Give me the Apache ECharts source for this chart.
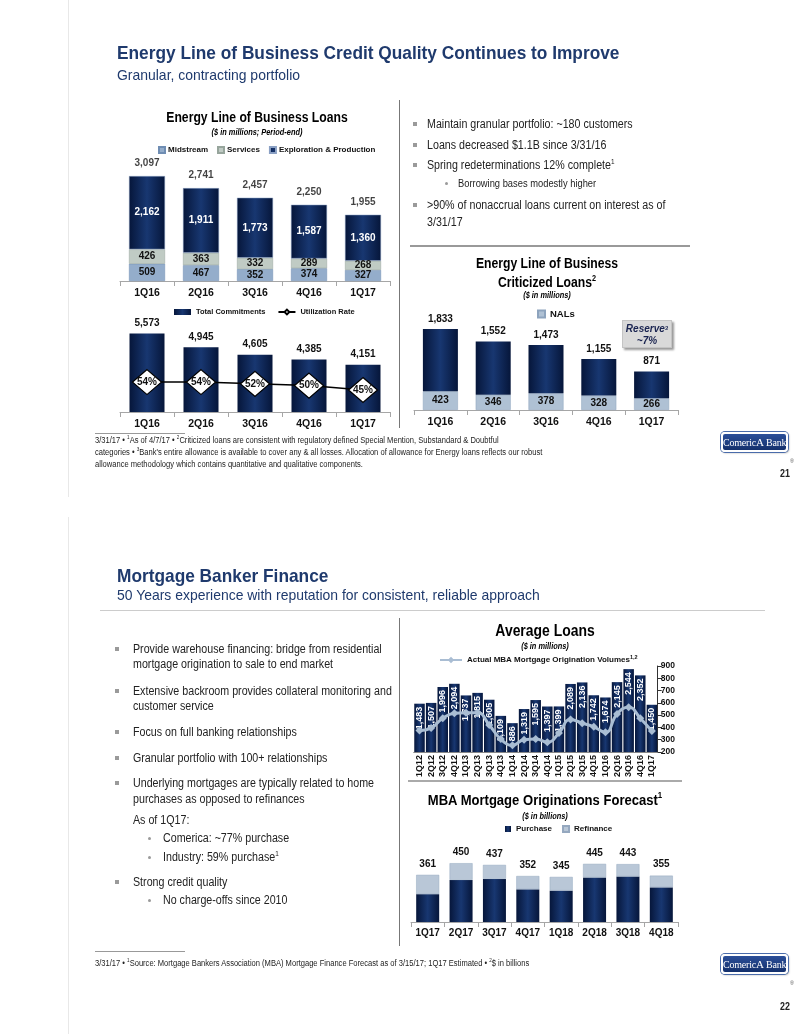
<!DOCTYPE html>
<html><head><meta charset="utf-8">
<script src="https://cdn.jsdelivr.net/npm/echarts@6/dist/echarts.min.js"></script>
<style>
body{margin:0;background:#fff;}
#wrap{position:relative;width:799px;height:1034px;overflow:hidden;font-family:'Liberation Sans Narrow','Arial Narrow','Liberation Sans',Arial,sans-serif;color:#1a1a1a;}
#chart{position:absolute;left:0;top:0;width:799px;height:1034px;}
.t{position:absolute;white-space:nowrap;line-height:1;z-index:5;transform-origin:left center;transform:scaleX(0.89);}
.c{transform-origin:center center;transform:translateX(-50%) scaleX(0.87);text-align:center;}
.navy{color:#1F3A6D;}
.h1{font-size:19px;font-weight:bold;transform:scaleX(0.91);}
.h2{font-size:15px;transform:scaleX(0.93);}
.ct{font-size:14px;font-weight:bold;color:#000;}
.cs{font-size:8.5px;font-weight:bold;font-style:italic;color:#000;}
.b{font-size:12px;color:#222;}
.sb{font-size:10.5px;color:#222;}
.sq{position:absolute;width:4px;height:4px;background:#9a9a9a;z-index:5;}
.dot{position:absolute;width:3px;height:3px;border-radius:50%;background:#9a9a9a;z-index:5;}
.fn{font-size:8.5px;color:#222;}
sup{font-size:60%;vertical-align:top;position:relative;top:-1px;}
.ln{position:absolute;z-index:4;}
.logo{position:absolute;width:63px;height:16px;border-radius:4px;background:linear-gradient(#2b4f99,#14306c);border:2px solid #fff;box-shadow:0 0 0 1px #4a6cab,1px 1px 2px rgba(0,0,0,.35);color:#fff;font-family:'Liberation Serif','DejaVu Serif',serif;font-size:10px;letter-spacing:-0.2px;line-height:16px;text-align:center;z-index:5;white-space:nowrap;overflow:hidden;}
.pg{font-size:10px;font-weight:bold;color:#222;}
.res{position:absolute;left:622px;top:320px;width:50px;height:28px;background:#d9d9d9;border:1px solid #c4c4c4;box-shadow:2px 2px 2px #9a9a9a;text-align:center;font-size:10px;font-weight:bold;font-style:italic;color:#1a2450;line-height:12px;padding-top:2px;box-sizing:border-box;z-index:5;}
</style></head>
<body>
<div id="wrap">
<div id="chart"></div>

<!-- slide borders -->
<div class="ln" style="left:68px;top:0;width:1px;height:497px;background:#e8e8e8"></div>
<div class="ln" style="left:68px;top:517px;width:1px;height:517px;background:#e8e8e8"></div>

<!-- ===== Slide 1 ===== -->
<div class="t navy h1" style="left:117px;top:43px">Energy Line of Business Credit Quality Continues to Improve</div>
<div class="t navy h2" style="left:117px;top:67px">Granular, contracting portfolio</div>

<div class="t c ct" style="left:257px;top:110px">Energy Line of Business Loans</div>
<div class="t c cs" style="left:257px;top:128px">($ in millions; Period-end)</div>

<div class="ln" style="left:399px;top:100px;width:1px;height:328px;background:#777"></div>
<div class="ln" style="left:410px;top:245px;width:280px;height:2px;background:#999"></div>

<div class="sq" style="left:413px;top:122px"></div>
<div class="t b" style="left:427px;top:118px">Maintain granular portfolio: ~180 customers</div>
<div class="sq" style="left:413px;top:143px"></div>
<div class="t b" style="left:427px;top:139px">Loans decreased $1.1B since 3/31/16</div>
<div class="sq" style="left:413px;top:163px"></div>
<div class="t b" style="left:427px;top:159px">Spring redeterminations 12% complete<sup>1</sup></div>
<div class="dot" style="left:445px;top:182px"></div>
<div class="t sb" style="left:458px;top:178px">Borrowing bases modestly higher</div>
<div class="sq" style="left:413px;top:203px"></div>
<div class="t b" style="left:427px;top:199px">&gt;90% of nonaccrual loans current on interest as of</div>
<div class="t b" style="left:427px;top:216px">3/31/17</div>

<div class="t c ct" style="left:547px;top:256px">Energy Line of Business</div>
<div class="t c ct" style="left:547px;top:275px">Criticized Loans<sup>2</sup></div>
<div class="t c cs" style="left:547px;top:291px">($ in millions)</div>
<div class="res">Reserve<sup>3</sup><br>~7%</div>

<div class="ln" style="left:95px;top:433px;width:90px;height:1px;background:#999"></div>
<div class="t fn" style="left:95px;top:436px">3/31/17 &bull; <sup>1</sup>As of 4/7/17 &bull; <sup>2</sup>Criticized loans are consistent with regulatory defined Special Mention, Substandard &amp; Doubtful</div>
<div class="t fn" style="left:95px;top:448px">categories &bull; <sup>3</sup>Bank's entire allowance is available to cover any &amp; all losses. Allocation of allowance for Energy loans reflects our robust</div>
<div class="t fn" style="left:95px;top:460px">allowance methodology which contains quantitative and qualitative components.</div>
<div class="logo" style="left:721px;top:432px">Comeric<span style="font-size:11px">A</span> Bank</div>
<div class="t" style="left:790px;top:458px;font-size:6px;color:#555">&reg;</div>
<div class="t pg" style="left:780px;top:469px">21</div>

<!-- ===== Slide 2 ===== -->
<div class="t navy h1" style="left:117px;top:566px">Mortgage Banker Finance</div>
<div class="t navy h2" style="left:117px;top:587px">50 Years experience with reputation for consistent, reliable approach</div>
<div class="ln" style="left:100px;top:610px;width:665px;height:1px;background:#ccc"></div>
<div class="ln" style="left:399px;top:618px;width:1px;height:328px;background:#777"></div>
<div class="ln" style="left:408px;top:780px;width:274px;height:2px;background:#aaa"></div>

<div class="sq" style="left:115px;top:647px"></div>
<div class="t b" style="left:133px;top:643px">Provide warehouse financing: bridge from residential</div>
<div class="t b" style="left:133px;top:658px">mortgage origination to sale to end market</div>
<div class="sq" style="left:115px;top:689px"></div>
<div class="t b" style="left:133px;top:685px">Extensive backroom provides collateral monitoring and</div>
<div class="t b" style="left:133px;top:700px">customer service</div>
<div class="sq" style="left:115px;top:730px"></div>
<div class="t b" style="left:133px;top:726px">Focus on full banking relationships</div>
<div class="sq" style="left:115px;top:756px"></div>
<div class="t b" style="left:133px;top:752px">Granular portfolio with 100+ relationships</div>
<div class="sq" style="left:115px;top:781px"></div>
<div class="t b" style="left:133px;top:777px">Underlying mortgages are typically related to home</div>
<div class="t b" style="left:133px;top:793px">purchases as opposed to refinances</div>
<div class="t b" style="left:133px;top:814px">As of 1Q17:</div>
<div class="dot" style="left:148px;top:837px"></div>
<div class="t b" style="left:163px;top:832px">Comerica: ~77% purchase</div>
<div class="dot" style="left:148px;top:856px"></div>
<div class="t b" style="left:163px;top:851px">Industry: 59% purchase<sup>1</sup></div>
<div class="sq" style="left:115px;top:880px"></div>
<div class="t b" style="left:133px;top:876px">Strong credit quality</div>
<div class="dot" style="left:148px;top:899px"></div>
<div class="t b" style="left:163px;top:894px">No charge-offs since 2010</div>

<div class="t c ct" style="left:545px;top:623px;font-size:16px">Average Loans</div>
<div class="t c cs" style="left:545px;top:642px">($ in millions)</div>
<div class="t c ct" style="left:545px;top:792px;font-size:15px">MBA Mortgage Originations Forecast<sup>1</sup></div>
<div class="t c cs" style="left:545px;top:812px">($ in billions)</div>

<div class="ln" style="left:95px;top:951px;width:90px;height:1px;background:#999"></div>
<div class="t fn" style="left:95px;top:959px">3/31/17 &bull; <sup>1</sup>Source: Mortgage Bankers Association (MBA) Mortgage Finance Forecast as of 3/15/17; 1Q17 Estimated &bull; <sup>2</sup>$ in billions</div>
<div class="logo" style="left:721px;top:954px">Comeric<span style="font-size:11px">A</span> Bank</div>
<div class="t" style="left:790px;top:980px;font-size:6px;color:#555">&reg;</div>
<div class="t pg" style="left:780px;top:1002px">22</div>
</div>

<script>
// ---------- DATA ----------
const energyQuarters = ['1Q16','2Q16','3Q16','4Q16','1Q17'];
const midstream = [509,467,352,374,327];
const services = [426,363,332,289,268];
const explorationProduction = [2162,1911,1773,1587,1360];
const loanTotals = [3097,2741,2457,2250,1955];
const totalCommitments = [5573,4945,4605,4385,4151];
const utilizationRate = [54,54,52,50,45];
const criticizedTotals = [1833,1552,1473,1155,871];
const nals = [423,346,378,328,266];
const avgLoanQuarters = ['1Q12','2Q12','3Q12','4Q12','1Q13','2Q13','3Q13','4Q13','1Q14','2Q14','3Q14','4Q14','1Q15','2Q15','3Q15','4Q15','1Q16','2Q16','3Q16','4Q16','1Q17'];
const averageLoans = [1483,1507,1996,2094,1737,1815,1605,1109,886,1319,1595,1397,1399,2089,2136,1742,1674,2145,2544,2352,1450];
const mbaVolumes = [375,395,475,515,520,520,420,305,255,300,305,280,355,465,435,405,360,510,565,475,370];
const forecastQuarters = ['1Q17','2Q17','3Q17','4Q17','1Q18','2Q18','3Q18','4Q18'];
const forecastTotals = [361,450,437,352,345,445,443,355];
const purchase = [213,322,330,250,240,340,348,265];

// derived
const criticizedOther = criticizedTotals.map((v,i)=>v-nals[i]);
const refinance = forecastTotals.map((v,i)=>v-purchase[i]);

// ---------- STYLE ----------
const FONT = "'Liberation Sans',Arial,sans-serif";
const fmt = v => Number(v).toLocaleString('en-US');
const navy = () => new echarts.graphic.LinearGradient(0,0,1,0,[
  {offset:0,color:'#06163a'},{offset:0.5,color:'#183771'},{offset:1,color:'#06163a'}]);
const catAxis = (grid, data, extra) => Object.assign({
  type:'category', gridIndex:grid, data:data,
  axisLine:{lineStyle:{color:'#a6a6a6',width:1}},
  axisTick:{show:true,length:5,lineStyle:{color:'#a6a6a6'}},
  axisLabel:{fontFamily:FONT,fontWeight:'bold',fontSize:10.5,color:'#111',margin:7,interval:0}
}, extra||{});
const hidden = (grid, min, max, extra) => Object.assign({type:'value',gridIndex:grid,min:min,max:max,show:false}, extra||{});
const lblStyle = {fontFamily:FONT,fontWeight:'bold',fontSize:10,color:'#111'};
const legendText = {fontFamily:FONT,fontWeight:'bold',fontSize:8,color:'#111'};

const chart = echarts.init(document.getElementById('chart'), null, {renderer:'canvas'});
chart.setOption({
  animation:false,
  textStyle:{fontFamily:FONT},
  grid:[
    {left:120,top:162.4,width:270,height:118.6},
    {left:120,top:324,width:270,height:88},
    {left:414,top:321.6,width:264,height:88.4},
    {left:413.7,top:666,width:244,height:86},
    {left:411,top:843.6,width:267,height:78.4}
  ],
  legend:[
    {data:['Midstream','Services','Exploration & Production'],left:153,top:141,icon:'rect',itemWidth:6,itemHeight:6,itemGap:9,textStyle:Object.assign({},legendText,{padding:[0,0,0,-2]}),selectedMode:false},
    {data:[{name:'Total Commitments',icon:'rect'},'Utilization Rate'],left:169,top:303,itemWidth:17,itemHeight:6,itemGap:12,textStyle:Object.assign({},legendText,{fontSize:7.5}),selectedMode:false},
    {data:['NALs'],left:532,top:304,icon:'rect',itemWidth:7,itemHeight:7,itemGap:4,textStyle:Object.assign({},legendText,{fontSize:9.5}),selectedMode:false},
    {data:['Actual MBA Mortgage Origination Volumes'],left:434,top:649,itemWidth:22,itemHeight:8,textStyle:Object.assign({},legendText,{rich:{s:{fontFamily:FONT,fontWeight:'bold',fontSize:5.5,verticalAlign:'top',padding:[0,0,6,0]}}}),formatter:n=>n+'{s|1,2}',selectedMode:false},
    {data:['Purchase','Refinance'],left:500,top:820,icon:'rect',itemWidth:6,itemHeight:6,itemGap:10,textStyle:legendText,selectedMode:false}
  ],
  xAxis:[
    catAxis(0, energyQuarters),
    catAxis(1, energyQuarters),
    catAxis(2, energyQuarters),
    catAxis(3, avgLoanQuarters, {axisTick:{show:false},axisLine:{lineStyle:{color:'#888'}},axisLabel:{fontFamily:FONT,fontWeight:'bold',fontSize:9,color:'#111',rotate:90,interval:0,margin:3}}),
    catAxis(4, forecastQuarters, {axisLabel:{fontFamily:FONT,fontWeight:'bold',fontSize:10,color:'#111',margin:6,interval:0}})
  ],
  yAxis:[
    hidden(0,0,3500),
    hidden(1,2000,6000),
    hidden(1,20,120),
    hidden(2,0,2000),
    hidden(3,0,2640),
    {type:'value',gridIndex:3,position:'right',min:200,max:900,interval:100,
     axisLine:{show:true,lineStyle:{color:'#333'}},axisTick:{show:true,length:4,lineStyle:{color:'#333'}},
     splitLine:{show:false},axisLabel:{fontFamily:FONT,fontWeight:'bold',fontSize:8.5,color:'#111',margin:3}},
    hidden(4,0,600)
  ],
  series:[
    {name:'Midstream',type:'bar',xAxisIndex:0,yAxisIndex:0,stack:'e',barWidth:36,data:midstream,
     itemStyle:{color:'#94adcb',borderColor:'#6f8db3',borderWidth:0.5},
     label:{show:true,position:'inside',...lblStyle}},
    {name:'Services',type:'bar',xAxisIndex:0,yAxisIndex:0,stack:'e',data:services,
     itemStyle:{color:'#c0cbc4',borderColor:'#97a59c',borderWidth:0.5},
     label:{show:true,position:'inside',...lblStyle}},
    {name:'Exploration & Production',type:'bar',xAxisIndex:0,yAxisIndex:0,stack:'e',data:explorationProduction,
     itemStyle:{color:navy(),borderColor:'#8aa0c4',borderWidth:0.5},
     label:{show:true,position:'inside',...lblStyle,color:'#fff',formatter:p=>fmt(p.value)}},
    {name:'Loan Totals',type:'scatter',xAxisIndex:0,yAxisIndex:0,data:loanTotals,symbolSize:1,
     itemStyle:{color:'rgba(0,0,0,0)'},label:{show:true,position:'top',distance:7,...lblStyle,formatter:p=>fmt(p.value)}},

    {name:'Total Commitments',type:'bar',xAxisIndex:1,yAxisIndex:1,barWidth:35,data:totalCommitments,
     itemStyle:{color:navy()},label:{show:true,position:'top',distance:5,...lblStyle,formatter:p=>fmt(p.value)}},
    {name:'Utilization Rate',type:'line',xAxisIndex:1,yAxisIndex:2,data:utilizationRate,z:5,
     lineStyle:{color:'#000',width:1.5},symbol:'diamond',symbolSize:[29,25],
     itemStyle:{color:'#fff',borderColor:'#000',borderWidth:1.2},
     label:{show:true,position:'inside',...lblStyle,formatter:p=>p.value+'%'}},

    {name:'NALs',type:'bar',xAxisIndex:2,yAxisIndex:3,stack:'c',barWidth:35,data:nals,
     itemStyle:{color:'#afc1d4',borderColor:'#8da3bd',borderWidth:0.5},
     label:{show:true,position:'inside',...lblStyle}},
    {name:'Criticized Loans',type:'bar',xAxisIndex:2,yAxisIndex:3,stack:'c',data:criticizedOther,
     itemStyle:{color:navy()},
     label:{show:true,position:'top',distance:5,...lblStyle,formatter:p=>fmt(criticizedTotals[p.dataIndex])}},

    {name:'Average Loans',type:'bar',xAxisIndex:3,yAxisIndex:4,barWidth:10.5,data:averageLoans,
     itemStyle:{color:navy()},
     label:{show:true,position:'insideTop',rotate:90,align:'right',verticalAlign:'middle',distance:3,
       fontFamily:FONT,fontWeight:'bold',fontSize:9,color:'#fff',formatter:p=>fmt(p.value)}},
    {name:'Actual MBA Mortgage Origination Volumes',type:'line',xAxisIndex:3,yAxisIndex:5,data:mbaVolumes,z:4,
     smooth:true,lineStyle:{color:'#a9bdd3',width:3},symbol:'diamond',symbolSize:8,
     itemStyle:{color:'#a9bdd3'}},

    {name:'Purchase',type:'bar',xAxisIndex:4,yAxisIndex:6,stack:'f',barWidth:23,data:purchase,
     itemStyle:{color:navy()}},
    {name:'Refinance',type:'bar',xAxisIndex:4,yAxisIndex:6,stack:'f',data:refinance,
     itemStyle:{color:'#b9c7d7',borderColor:'#95a8bf',borderWidth:0.5},
     label:{show:true,position:'top',distance:6,...lblStyle,formatter:p=>fmt(forecastTotals[p.dataIndex])}}
  ]
});
</script>
</body></html>
